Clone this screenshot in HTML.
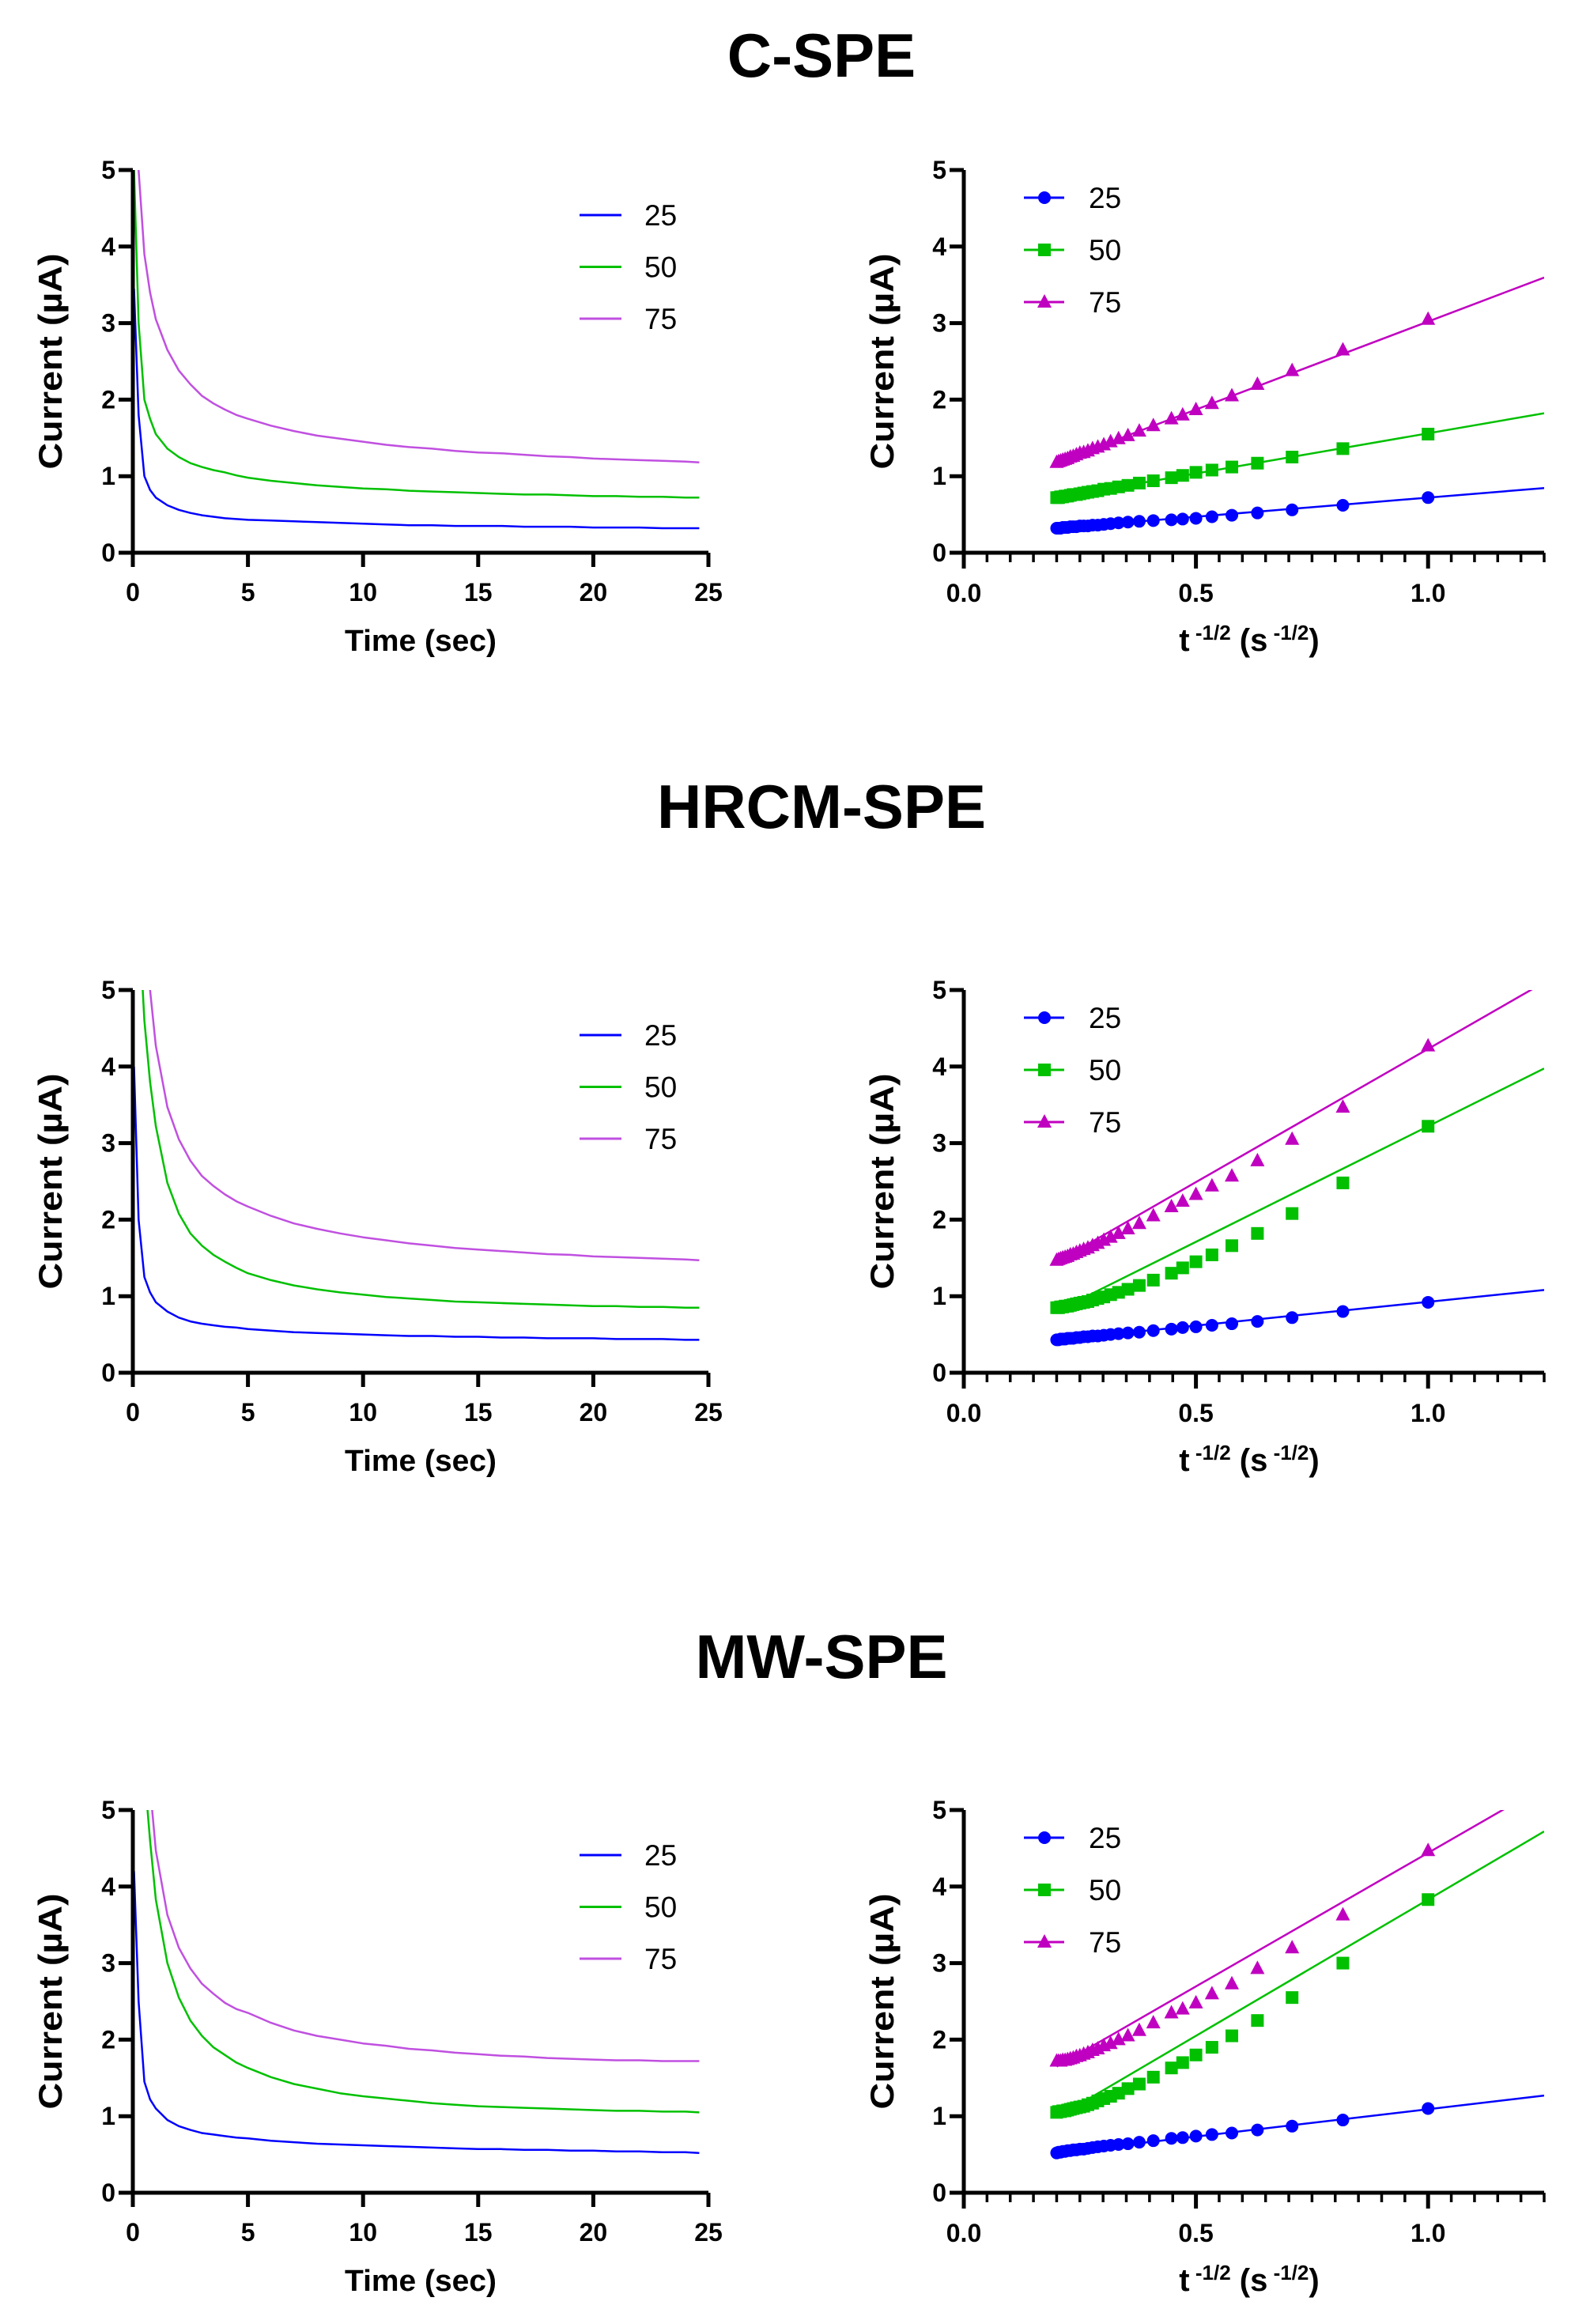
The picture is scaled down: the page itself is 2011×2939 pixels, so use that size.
<!DOCTYPE html>
<html><head><meta charset="utf-8"><style>
html,body{margin:0;padding:0;background:#fff;}
svg{display:block;font-family:"Liberation Sans",Arial,sans-serif;}
</style></head><body>
<svg id="fig" width="2011" height="2939" viewBox="0 0 2011 2939" xmlns="http://www.w3.org/2000/svg">
</svg>
<script>
// shared time samples (s)
const earlyT = [0.05, 0.25, 0.5, 0.75];
const T = [1,1.5,2,2.5,3,3.5,4,4.5,5,6,7,8,9,10,11,12,13,14,15,16,17,18,19,20,21,22,23,24,25];
const seriesNames = ["25","50","75"];
const titles = ["C-SPE","HRCM-SPE","MW-SPE"];
const xTicksLeft = [0,5,10,15,20,25];
const yTicks = [0,1,2,3,4,5];
const xTicksRight = [0,0.5,1.0];
const xTickLabelsRight = ["0.0","0.5","1.0"];

// C-SPE
const cEarly25 = [3.45,1.8,1.0,0.82], cEarly50 = [5.0,3.0,2.0,1.75], cEarly75 = [6.5,5.0,3.9,3.4];
const c25 = [0.72,0.62,0.56,0.52,0.49,0.47,0.45,0.44,0.43,0.42,0.41,0.40,0.39,0.38,0.37,0.36,0.36,0.35,0.35,0.35,0.34,0.34,0.34,0.33,0.33,0.33,0.32,0.32,0.32];
const c50 = [1.55,1.36,1.25,1.17,1.12,1.08,1.05,1.01,0.98,0.94,0.91,0.88,0.86,0.84,0.83,0.81,0.80,0.79,0.78,0.77,0.76,0.76,0.75,0.74,0.74,0.73,0.73,0.72,0.72];
const c75 = [3.05,2.65,2.38,2.20,2.05,1.95,1.87,1.80,1.75,1.66,1.59,1.53,1.49,1.45,1.41,1.38,1.36,1.33,1.31,1.30,1.28,1.26,1.25,1.23,1.22,1.21,1.20,1.19,1.18];
const cSlope = [0.50,1.05,2.30], cIntercept = [0.22,0.51,0.72];
// HRCM-SPE
const hEarly25 = [4.0,2.0,1.25,1.05], hEarly50 = [7.0,6.0,4.6,3.8], hEarly75 = [9.0,7.5,6.0,5.0];
const h25 = [0.92,0.80,0.72,0.67,0.64,0.62,0.60,0.59,0.57,0.55,0.53,0.52,0.51,0.50,0.49,0.48,0.48,0.47,0.47,0.46,0.46,0.45,0.45,0.45,0.44,0.44,0.44,0.43,0.43];
const h50 = [3.22,2.48,2.08,1.82,1.66,1.54,1.45,1.37,1.30,1.21,1.14,1.09,1.05,1.02,0.99,0.97,0.95,0.93,0.92,0.91,0.90,0.89,0.88,0.87,0.87,0.86,0.86,0.85,0.85];
const h75 = [4.27,3.47,3.05,2.77,2.57,2.44,2.33,2.24,2.17,2.05,1.95,1.88,1.82,1.77,1.73,1.69,1.66,1.63,1.61,1.59,1.57,1.55,1.54,1.52,1.51,1.50,1.49,1.48,1.47];
const hSlope = [0.62,3.02,3.48], hIntercept = [0.306,0.20,0.75];
// MW-SPE
const mEarly25 = [4.2,2.5,1.45,1.22], mEarly50 = [9.0,7.0,5.5,4.6], mEarly75 = [9.0,8.0,6.5,5.3];
const m25 = [1.10,0.95,0.87,0.82,0.78,0.76,0.74,0.72,0.71,0.68,0.66,0.64,0.63,0.62,0.61,0.60,0.59,0.58,0.57,0.57,0.56,0.56,0.55,0.55,0.54,0.54,0.53,0.53,0.52];
const m50 = [3.83,3.00,2.55,2.25,2.05,1.90,1.80,1.70,1.63,1.51,1.42,1.36,1.30,1.26,1.23,1.20,1.17,1.15,1.13,1.12,1.11,1.10,1.09,1.08,1.07,1.07,1.06,1.06,1.05];
const m75 = [4.47,3.63,3.20,2.93,2.73,2.60,2.48,2.40,2.35,2.22,2.12,2.05,2.00,1.95,1.92,1.88,1.86,1.83,1.81,1.79,1.78,1.76,1.75,1.74,1.73,1.73,1.72,1.72,1.72];
const mSlope = [0.714,3.56,3.49], mIntercept = [0.377,0.27,0.95];

const panels = [
 {early:[cEarly25,cEarly50,cEarly75], vals:[c25,c50,c75], slope:cSlope, icpt:cIntercept},
 {early:[hEarly25,hEarly50,hEarly75], vals:[h25,h50,h75], slope:hSlope, icpt:hIntercept},
 {early:[mEarly25,mEarly50,mEarly75], vals:[m25,m50,m75], slope:mSlope, icpt:mIntercept}
];
const rowOffset = [0,1037,2074];
const titleY = [64,1014,2089];
const leftCol = ["#0000ff","#00c000","#c050e0"];
const rightCol = ["#0000ff","#00c000","#c000c0"];

const NS = "http://www.w3.org/2000/svg";
const svg = document.getElementById("fig");
function mk(tag, attrs, parent, text){
  const e = document.createElementNS(NS, tag);
  for (const k in attrs) e.setAttribute(k, attrs[k]);
  if (text !== undefined) e.textContent = text;
  (parent||svg).appendChild(e);
  return e;
}

panels.forEach((p, r) => {
  const o = rowOffset[r];
  const y0 = 699 + o, y5 = 215 + o;
  const yS = v => y0 - (y0 - y5) * v / 5;
  const t = mk("text",{x:1039,y:titleY[r]+33,"text-anchor":"middle","font-size":"78","font-weight":"bold"},svg,titles[r]);
  
  

  // ---------- left chart ----------
  const gL = mk("g",{});
  
  
  const xL0 = 168, xL1 = 896;
  const xL = v => xL0 + (xL1 - xL0) * v / 25;
  const clipR = mk("clipPath",{id:"cl"+r},gL);
  mk("rect",{x:xL0,y:y5,width:xL1-xL0+10,height:y0-y5},clipR);
  const lg = mk("g",{"clip-path":"url(#cl"+r+")"},gL);
  for (let s=0;s<3;s++){
    const ts = earlyT.concat(T), vs = p.early[s].concat(p.vals[s]);
    let d = "";
    ts.forEach((tt,i)=>{ d += (i?"L":"M") + xL(Math.min(tt,24.6)).toFixed(1) + "," + yS(vs[i]).toFixed(1); });
    const path = mk("path",{d:d,fill:"none",stroke:leftCol[s],"stroke-width":"2.5","stroke-linejoin":"round"},lg);
    
    
  }
  const axL = mk("g",{stroke:"#000","stroke-width":"5",fill:"none"},gL);
  
  
  mk("path",{d:`M${xL0},${y5} V${y0} H${xL1}`},axL);
  yTicks.forEach(v=>{
    mk("line",{x1:xL0-18,x2:xL0,y1:yS(v),y2:yS(v)},axL);
    const tl = mk("text",{x:xL0-22,y:yS(v)+11,"text-anchor":"end","font-size":"32","font-weight":"bold"},gL,String(v));
    
    
  });
  xTicksLeft.forEach(v=>{
    mk("line",{x1:xL(v),x2:xL(v),y1:y0,y2:y0+18},axL);
    const tl = mk("text",{x:xL(v),y:y0+61,"text-anchor":"middle","font-size":"32","font-weight":"bold"},gL,String(v));
    
    
  });
  const xt = mk("text",{x:532,y:y0+124,"text-anchor":"middle","font-size":"38","font-weight":"bold",textLength:"192",lengthAdjust:"spacingAndGlyphs"},gL,"Time (sec)");
  
  
  const yt = mk("text",{x:0,y:0,"text-anchor":"middle","font-size":"42","font-weight":"bold",textLength:"273",lengthAdjust:"spacingAndGlyphs",transform:`translate(78,${(y0+y5)/2}) rotate(-90)`},gL,"Current (\u00b5A)");
  
  
  for (let s=0;s<3;s++){
    const ly = 272 + o + s*65.5;
    const le = mk("g",{},gL);
    
    
    mk("line",{x1:733,x2:786,y1:ly,y2:ly,stroke:leftCol[s],"stroke-width":"3"},le);
    mk("text",{x:815,y:ly+13,"font-size":"37"},le,seriesNames[s]);
  }

  // ---------- right chart ----------
  const gR = mk("g",{});
  
  
  const xR0 = 1219, xR1 = 1953;
  const xR = v => xR0 + (xR1 - xR0) * v / 1.25;
  const clipR2 = mk("clipPath",{id:"cr"+r},gR);
  mk("rect",{x:xR0,y:y5,width:xR1-xR0,height:y0-y5},clipR2);
  const rg = mk("g",{"clip-path":"url(#cr"+r+")"},gR);
  for (let s=0;s<3;s++){
    const x1 = 0.2, x2 = 1.25;
    const fit = mk("line",{x1:xR(x1),y1:yS(p.icpt[s]+p.slope[s]*x1),x2:xR(x2),y2:yS(p.icpt[s]+p.slope[s]*x2),stroke:rightCol[s],"stroke-width":"2.5"},rg);
    
    
    T.forEach((tt,i)=>{
      const cx = xR(1/Math.sqrt(tt)), cy = yS(p.vals[s][i]);
      let m;
      if (s===0) m = mk("circle",{cx:cx,cy:cy,r:8,fill:rightCol[s]},rg);
      else if (s===1) m = mk("rect",{x:cx-8,y:cy-8,width:16,height:16,fill:rightCol[s]},rg);
      else m = mk("path",{d:`M${cx},${cy-10} L${cx+9},${cy+7} L${cx-9},${cy+7}Z`,fill:rightCol[s]},rg);
      
      
    });
  }
  const axR = mk("g",{stroke:"#000","stroke-width":"5",fill:"none"},gR);
  
  
  mk("path",{d:`M${xR0},${y5} V${y0} H${xR1}`},axR);
  yTicks.forEach(v=>{
    mk("line",{x1:xR0-18,x2:xR0,y1:yS(v),y2:yS(v)},axR);
    const tl = mk("text",{x:xR0-22,y:yS(v)+11,"text-anchor":"end","font-size":"32","font-weight":"bold"},gR,String(v));
    
    
  });
  for (let k=0;k<=25;k++){
    const v = k*0.05, major = (k%10===0);
    mk("line",{x1:xR(v),x2:xR(v),y1:y0,y2:y0+(major?20:12),"stroke-width":major?"5":"3.5"},axR);
  }
  xTicksRight.forEach((v,i)=>{
    const tl = mk("text",{x:xR(v),y:y0+62,"text-anchor":"middle","font-size":"32","font-weight":"bold"},gR,xTickLabelsRight[i]);
    
    
  });
  const xtr = mk("text",{x:1580,y:y0+124,"text-anchor":"middle","font-size":"40","font-weight":"bold"},gR);
  
  
  mk("tspan",{},xtr,"t");
  mk("tspan",{dy:"-14","font-size":"26"},xtr," -1/2");
  mk("tspan",{dy:"14"},xtr," (s");
  mk("tspan",{dy:"-14","font-size":"26"},xtr," -1/2");
  mk("tspan",{dy:"14"},xtr,")");
  const ytr = mk("text",{x:0,y:0,"text-anchor":"middle","font-size":"42","font-weight":"bold",textLength:"273",lengthAdjust:"spacingAndGlyphs",transform:`translate(1130,${(y0+y5)/2}) rotate(-90)`},gR,"Current (\u00b5A)");
  
  
  for (let s=0;s<3;s++){
    const ly = 250 + o + s*66;
    const le = mk("g",{},gR);
    
    
    mk("line",{x1:1295,x2:1346,y1:ly,y2:ly,stroke:rightCol[s],"stroke-width":"3"},le);
    const cx = 1321;
    if (s===0) mk("circle",{cx:cx,cy:ly,r:8,fill:rightCol[s]},le);
    else if (s===1) mk("rect",{x:cx-8,y:ly-8,width:16,height:16,fill:rightCol[s]},le);
    else mk("path",{d:`M${cx},${ly-10} L${cx+9},${ly+7} L${cx-9},${ly+7}Z`,fill:rightCol[s]},le);
    mk("text",{x:1377,y:ly+13,"font-size":"37"},le,seriesNames[s]);
  }
});
</script>
</body></html>
